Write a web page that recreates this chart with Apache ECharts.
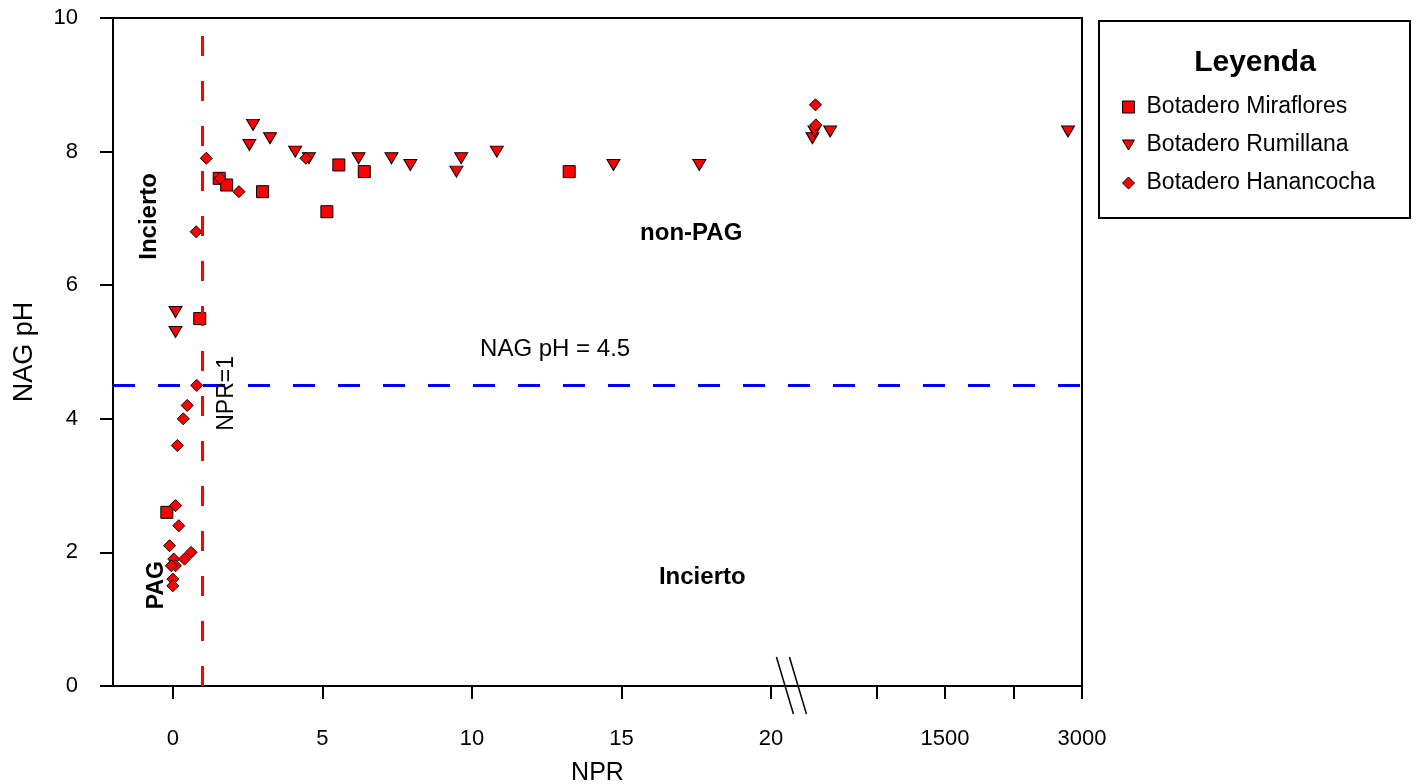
<!DOCTYPE html>
<html>
<head>
    <meta charset="utf-8">
    <title>NAG pH vs NPR</title>
    <script src="https://cdn.jsdelivr.net/npm/echarts@6/dist/echarts.min.js"></script>
</head>
<body style="margin:0;">
    <div id="main" style="width: 1419px;height:784px;"></div>
    <script type="text/javascript">

var miraNPR = [-0.2, 0.9, 1.55, 1.8, 3.0, 5.15, 5.55, 6.4, 13.25];
var miraPH  = [2.6, 5.5, 7.6, 7.5, 7.4, 7.1, 7.8, 7.7, 7.7];

var rumiNPR = [2.68, 2.56, 3.25, 4.09, 4.55, 6.21, 7.31, 7.94, 0.09, 0.09, 9.64, 9.48, 10.83, 14.73, 17.6, 47, 69, 241, 2847];
var rumiPH  = [8.4, 8.1, 8.2, 8.0, 7.9, 7.9, 7.9, 7.8, 5.6, 5.3, 7.9, 7.7, 8.0, 7.8, 7.8, 8.2, 8.3, 8.3, 8.3];

var hanaNPR = [1.12, 1.58, 2.21, 0.78, 4.45, 0.8, 0.48, 0.35, 0.15, 0.09, 0.2, -0.11, 0.61, 0.39, 0.03, 0.09, -0.05, 0.0, 0.0, 80, 84];
var hanaPH  = [7.9, 7.6, 7.4, 6.8, 7.9, 4.5, 4.2, 4.0, 3.6, 2.7, 2.4, 2.1, 2.0, 1.9, 1.9, 1.8, 1.8, 1.6, 1.5, 8.7, 8.4];

var xTickValues  = [0, 5, 10, 15, 20, 750, 1500, 2250, 3000];
var xLabelValues = [0, 5, 10, 15, 20, 1500, 3000];

var NPR_LIMIT = 1;
var NAG_LIMIT = 4.5;

// eje quebrado: 0-21 lineal, despues 0-3000 comprimido
var BREAK_AT = 21;
var BREAK_BASE = 21.24;
var BREAK_SCALE = 4.577 / 1500;

function toAxis(v) {
    return v <= BREAK_AT ? v : BREAK_BASE + v * BREAK_SCALE;
}
function fromAxis(a) {
    return a <= BREAK_AT + 0.1 ? Math.round(a) : Math.round((a - BREAK_BASE) / BREAK_SCALE);
}
function pts(xs, ys) {
    return xs.map(function (x, i) { return [toAxis(x), ys[i]]; });
}

var FONT = 'Liberation Sans, Arial, sans-serif';
var myChart = echarts.init(document.getElementById('main'));

var markerStyle = { color: '#FF0000', borderColor: '#000', borderWidth: 1, opacity: 1 };

var option = {
    backgroundColor: '#fff',
    animation: false,
    grid: { left: 113, right: 337, top: 18, bottom: 98, show: true, borderColor: '#000', borderWidth: 2,
            outerBoundsMode: 'none', containLabel: false },
    xAxis: {
        type: 'value',
        min: -2,
        max: toAxis(3000),
        name: 'NPR',
        nameLocation: 'middle',
        nameGap: 75,
        nameTextStyle: { fontFamily: FONT, fontSize: 25, color: '#000' },
        axisLine: { onZero: false, lineStyle: { color: '#000', width: 2 } },
        axisTick: { length: 13, lineStyle: { color: '#000', width: 2 }, customValues: xTickValues.map(toAxis) },
        axisLabel: {
            customValues: xLabelValues.map(toAxis),
            margin: 42,
            fontFamily: FONT, fontSize: 22, color: '#000',
            formatter: function (v) { return String(fromAxis(v)); }
        },
        splitLine: { show: false }
    },
    yAxis: {
        type: 'value',
        min: 0, max: 10, interval: 2,
        name: 'NAG pH',
        nameLocation: 'middle',
        nameGap: 75,
        nameTextStyle: { fontFamily: FONT, fontSize: 27, color: '#000' },
        axisLine: { onZero: false, lineStyle: { color: '#000', width: 2 } },
        axisTick: { length: 13, lineStyle: { color: '#000', width: 2 } },
        axisLabel: { margin: 35, fontFamily: FONT, fontSize: 22, color: '#000' },
        splitLine: { show: false }
    },
    legend: {
        data: [
            { name: 'Botadero Miraflores', icon: 'rect' },
            { name: 'Botadero Rumillana', icon: 'path://M0,0 L12,0 L6,10 Z' },
            { name: 'Botadero Hanancocha', icon: 'diamond' }
        ],
        orient: 'vertical',
        left: 1117,
        top: 90,
        itemWidth: 12,
        itemHeight: 12,
        itemGap: 14,
        itemStyle: { color: '#FF0000', borderColor: '#000', borderWidth: 1 },
        textStyle: { fontFamily: FONT, fontSize: 23, color: '#000', lineHeight: 24, padding: [0, 0, 0, 7] }
    },
    series: [
        {
            name: 'limites',
            type: 'line',
            data: [],
            z: 1,
            markLine: {
                silent: true,
                symbol: 'none',
                label: { show: false },
                data: [
                    [{ coord: [NPR_LIMIT, 0], lineStyle: { color: '#FF0000', width: 3, type: [20, 25] } }, { coord: [NPR_LIMIT, 9.75] }],
                    [{ coord: [-2, NAG_LIMIT], lineStyle: { color: '#0000FF', width: 3, type: [22, 23] } }, { coord: [toAxis(3000), NAG_LIMIT] }]
                ]
            }
        },
        {
            name: 'Botadero Miraflores',
            type: 'scatter',
            symbol: 'rect',
            symbolSize: 12,
            z: 3,
            itemStyle: markerStyle,
            data: pts(miraNPR, miraPH)
        },
        {
            name: 'Botadero Rumillana',
            type: 'scatter',
            symbol: 'triangle',
            symbolRotate: 180,
            symbolSize: [13, 11],
            z: 3,
            itemStyle: markerStyle,
            data: pts(rumiNPR, rumiPH)
        },
        {
            name: 'Botadero Hanancocha',
            type: 'scatter',
            symbol: 'diamond',
            symbolSize: 12,
            z: 3,
            itemStyle: markerStyle,
            data: pts(hanaNPR, hanaPH)
        }
    ]
};

myChart.setOption(option);

// textos y marcas de quiebre
function px(x, y) { return myChart.convertToPixel({ gridIndex: 0 }, [x, y]); }
function label(text, x, y, size, bold, rot) {
    var p = px(x, y);
    return {
        type: 'text', x: p[0], y: p[1], rotation: rot || 0, z: 10,
        style: { text: text, fontFamily: FONT, fontSize: size, fontWeight: bold ? 'bold' : 'normal',
                 fill: '#000', align: 'center', verticalAlign: 'middle' }
    };
}
var b = px(20.68, 0);
var graphics = [
    label('Incierto', -0.8, 7.03, 24, true, Math.PI / 2),
    label('non-PAG', 17.33, 6.78, 24, true),
    label('NAG pH = 4.5', 12.78, 5.04, 24, false),
    label('NPR=1', 1.81, 4.38, 23, false, Math.PI / 2),
    label('Incierto', 17.7, 1.63, 24, true),
    label('PAG', -0.55, 1.51, 23, true, Math.PI / 2),
    { type: 'line', z: 10, shape: { x1: b[0] - 15, y1: b[1] - 29, x2: b[0] + 2, y2: b[1] + 28 }, style: { stroke: '#000', lineWidth: 1.5 } },
    { type: 'line', z: 10, shape: { x1: b[0] - 2, y1: b[1] - 29, x2: b[0] + 15, y2: b[1] + 28 }, style: { stroke: '#000', lineWidth: 1.5 } },
    { type: 'rect', z: 10, shape: { x: 1099, y: 21, width: 311, height: 197 }, style: { fill: 'none', stroke: '#000', lineWidth: 2 } },
    { type: 'text', z: 10, x: 1255, y: 63,
      style: { text: 'Leyenda', fontFamily: FONT, fontSize: 30, fontWeight: 'bold', fill: '#000', align: 'center', verticalAlign: 'middle' } }
];
myChart.setOption({ graphic: graphics });

    </script>
</body>
</html>
